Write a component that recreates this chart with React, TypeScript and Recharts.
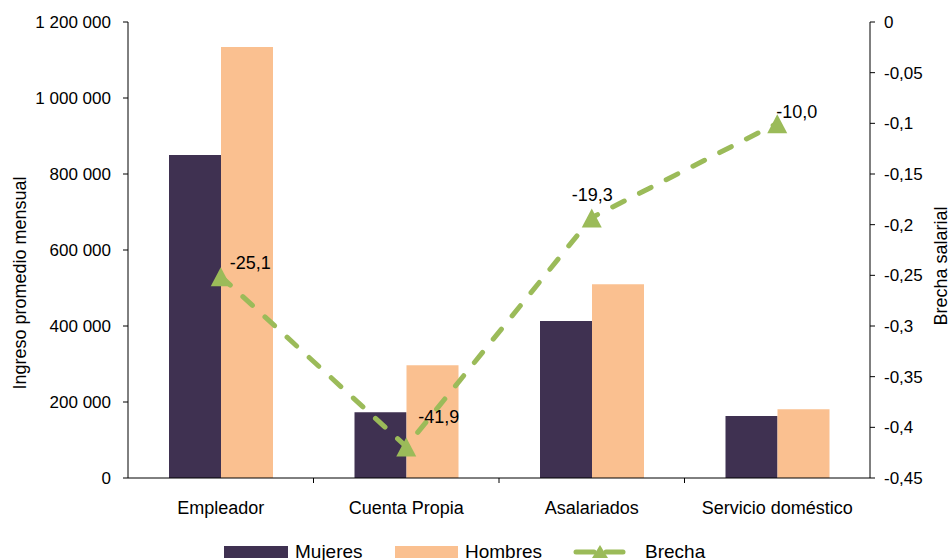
import React from "react";
import {
  ComposedChart, Bar, Line, XAxis, YAxis, LabelList,
} from "recharts";

const CATEGORIES = ["Empleador", "Cuenta Propia", "Asalariados", "Servicio doméstico"];
const MUJERES = [850000, 173000, 413000, 163000];
const HOMBRES = [1134000, 297000, 510000, 181000];
const BRECHA = [-0.251, -0.419, -0.193, -0.1];

const LEFT_TICKS = [0, 200000, 400000, 600000, 800000, 1000000, 1200000];
const RIGHT_TICKS = [0, -0.05, -0.1, -0.15, -0.2, -0.25, -0.3, -0.35, -0.4, -0.45];

const data = CATEGORIES.map((name, i) => ({
  name,
  mujeres: MUJERES[i],
  hombres: HOMBRES[i],
  brecha: BRECHA[i],
}));

const FONT = "'Liberation Sans', Arial, sans-serif";
const PURPLE = "#3F3151";
const PEACH = "#FAC090";
const GREEN = "#9BBB59";

const W = 950;
const H = 560;
const LEFT_W = 128;
const RIGHT_W = 80;
const BAND = (W - LEFT_W - RIGHT_W) / CATEGORIES.length;
const X_TICK_SIZE = 5;
const X_TICK_MARGIN = 18;

// label offsets (text start, vertical centre) relative to each point
const LABEL_OFFSETS = [
  [9, -13],
  [12, -30],
  [-20, -23],
  [-1, -11],
];

const fmtLeft = (v: number) => String(v).replace(/\B(?=(\d{3})+(?!\d))/g, " ");
const fmtRight = (v: number) => (v === 0 ? "0" : String(+v.toFixed(2)).replace(".", ","));
const fmtLabel = (v: number) => (v * 100).toFixed(1).replace(".", ",");

const XTick = (props: any) => {
  const { x, y, payload, index } = props;
  const axisY = y - X_TICK_MARGIN - X_TICK_SIZE;
  return (
    <g>
      <text x={x} y={y} dy="0.71em" textAnchor="middle" fontSize={18} fill="#000" fontFamily={FONT}>
        {payload.value}
      </text>
      {index < CATEGORIES.length - 1 && (
        <line x1={x + BAND / 2} x2={x + BAND / 2} y1={axisY} y2={axisY + X_TICK_SIZE} stroke="#000" />
      )}
    </g>
  );
};

const Triangle = (props: any) => {
  const { cx, cy, index } = props;
  if (cx == null || cy == null) return <g key={index} />;
  return (
    <polygon
      key={index}
      points={`${cx},${cy - 9} ${cx - 10},${cy + 10} ${cx + 10},${cy + 10}`}
      fill={GREEN}
    />
  );
};

const BrechaLabel = (props: any) => {
  const { x, y, value } = props;
  let idx = props.index;
  if (idx == null) idx = BRECHA.indexOf(value);
  const [dx, dy] = LABEL_OFFSETS[idx] || [8, -12];
  return (
    <text
      x={x + dx}
      y={y + dy}
      dominantBaseline="central"
      textAnchor="start"
      fontSize={18}
      fill="#000"
      fontFamily={FONT}
    >
      {fmtLabel(value)}
    </text>
  );
};

export default function App() {
  return (
    <div
      style={{
        position: "absolute",
        left: 0,
        top: 0,
        width: W,
        height: H,
        background: "#fff",
        overflow: "hidden",
        fontFamily: FONT,
      }}
    >
      <ComposedChart
        width={W}
        height={H}
        data={data}
        margin={{ top: 22, right: 0, bottom: 0, left: 0 }}
        barSize={52}
        barGap={0}
        style={{ fontFamily: FONT }}
      >
        <XAxis
          dataKey="name"
          height={H - 22 - 456}
          interval={0}
          tickLine={false}
          tickSize={X_TICK_SIZE}
          tickMargin={X_TICK_MARGIN}
          axisLine={{ stroke: "#000" }}
          tick={<XTick />}
        />
        <YAxis
          yAxisId="left"
          orientation="left"
          width={LEFT_W}
          domain={[0, 1200000]}
          ticks={LEFT_TICKS}
          tickFormatter={fmtLeft}
          tickSize={5}
          tickMargin={12}
          axisLine={{ stroke: "#000" }}
          tickLine={{ stroke: "#000" }}
          tick={{ fontSize: 17, fill: "#000", fontFamily: FONT }}
        />
        <YAxis
          yAxisId="right"
          orientation="right"
          width={RIGHT_W}
          domain={[-0.45, 0]}
          ticks={RIGHT_TICKS}
          tickFormatter={fmtRight}
          tickSize={5}
          tickMargin={9}
          axisLine={{ stroke: "#000" }}
          tickLine={{ stroke: "#000" }}
          tick={{ fontSize: 17, fill: "#000", fontFamily: FONT }}
        />
        <Bar yAxisId="left" dataKey="mujeres" name="Mujeres" fill={PURPLE} isAnimationActive={false} />
        <Bar yAxisId="left" dataKey="hombres" name="Hombres" fill={PEACH} isAnimationActive={false} />
        <Line
          yAxisId="right"
          dataKey="brecha"
          name="Brecha"
          type="linear"
          stroke={GREEN}
          strokeWidth={5}
          strokeDasharray="13 17"
          strokeLinecap="round"
          dot={Triangle}
          activeDot={false}
          isAnimationActive={false}
        >
          <LabelList dataKey="brecha" content={BrechaLabel} />
        </Line>
      </ComposedChart>

      {/* axis titles and legend */}
      <svg
        width={W}
        height={H}
        style={{ position: "absolute", left: 0, top: 0, pointerEvents: "none" }}
        fontFamily={FONT}
      >
        <text
          transform="translate(20,283) rotate(-90)"
          textAnchor="middle"
          dominantBaseline="central"
          fontSize={18}
          fill="#000"
        >
          Ingreso promedio mensual
        </text>
        <text
          transform="translate(941,266) rotate(-90)"
          textAnchor="middle"
          dominantBaseline="central"
          fontSize={18}
          fill="#000"
        >
          Brecha salarial
        </text>

        <rect x={224} y={546} width={64} height={12} fill={PURPLE} />
        <text x={295} y={558} fontSize={19} fill="#000">Mujeres</text>
        <rect x={395} y={546} width={63} height={12} fill={PEACH} />
        <text x={465} y={558} fontSize={19} fill="#000">Hombres</text>
        <line x1={576} y1={552} x2={594} y2={552} stroke={GREEN} strokeWidth={5} strokeLinecap="round" />
        <line x1={606} y1={552} x2={623} y2={552} stroke={GREEN} strokeWidth={5} strokeLinecap="round" />
        <polygon points="600,545 592,558 608,558" fill={GREEN} />
        <text x={645} y={558} fontSize={19} fill="#000">Brecha</text>
      </svg>
    </div>
  );
}
